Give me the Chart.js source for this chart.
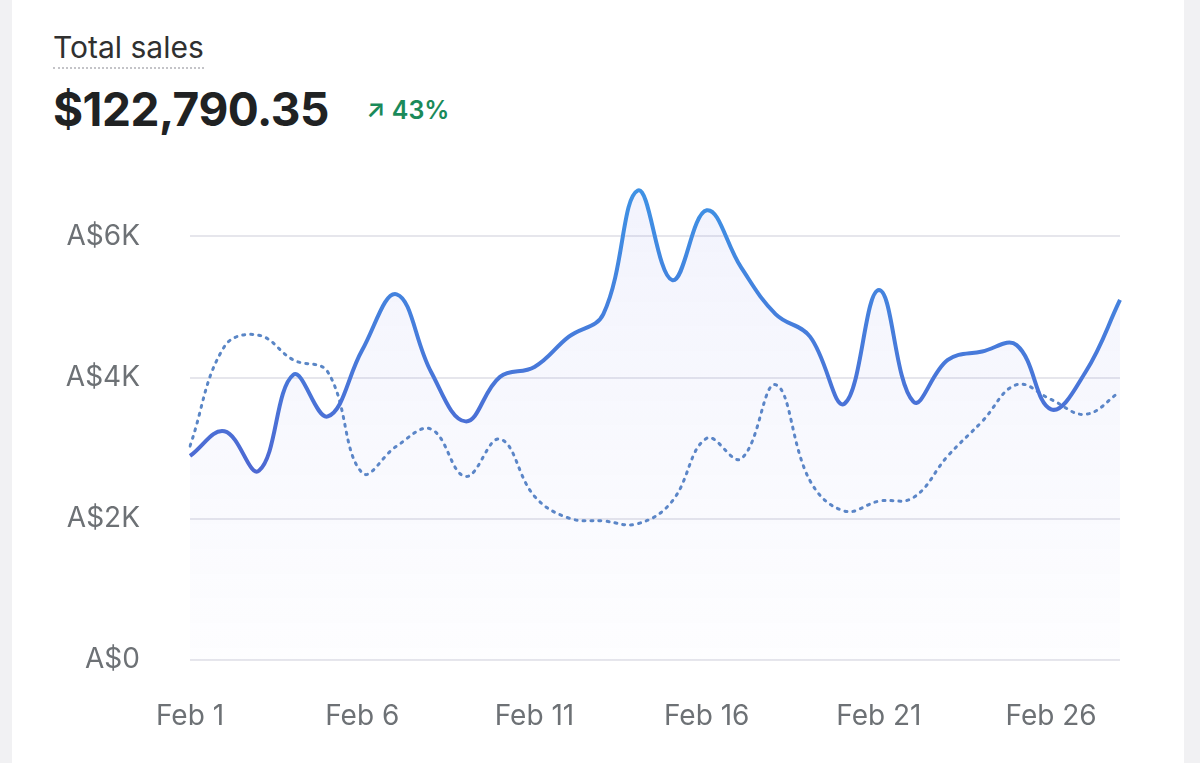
<!DOCTYPE html>
<html>
<head>
<meta charset="utf-8">
<script src="https://cdn.jsdelivr.net/npm/chart.js@4"></script>
<style>
  body { margin: 0; background: #f1f1f3; font-family: Inter, "Noto Sans", sans-serif; }
  .card { position: absolute; left: 12px; top: -10px; width: 1172px; height: 790px; background: #fff; }
  .title { position: absolute; left: 53px; top: 29px; font-size: 30px; color: #303030; border-bottom: 2px dotted #c4c4c8; padding-bottom: 2px; }
  .total { position: absolute; left: 53px; top: 81px; font-size: 46px; font-weight: 700; color: #202223; letter-spacing: -0.5px; }
  .delta { position: absolute; left: 366px; top: 95px; font-size: 25px; font-weight: 600; color: #1a8a5a; }
  #wrap { position: absolute; left: 40px; top: 99px; width: 1120px; height: 651px; }
</style>
</head>
<body>
<div class="card"></div>
<div class="title">Total sales</div>
<div class="total">$122,790.35</div>
<div class="delta">↗ 43%</div>
<div id="wrap"><canvas id="salesChartId"></canvas></div>
<script>
const days = [1,2,3,4,5,6,7,8,9,10,11,12,13,14,15,16,17,18,19,20,21,22,23,24,25,26,27,28];
const labels = days.map(d => `Feb ${d}`);
const currentSales = [2890,3240,2680,4040,3450,4390,5180,4080,3380,4010,4150,4580,4900,6650,5380,6370,5560,4900,4580,3630,5240,3660,4250,4370,4460,3550,4080,5100];
const previousSales = [3030,4440,4600,4250,4080,2650,3030,3270,2600,3130,2320,2010,1970,1930,2250,3140,2850,3900,2540,2110,2250,2300,2890,3380,3900,3690,3480,3800];
const yTicks = [0, 2000, 4000, 6000];

const ctx = document.getElementById('salesChartId');

function lineGradient(context) {
    const area = context.chart.chartArea;
    if (!area) return '#4f6fd4';
    const g = context.chart.ctx.createLinearGradient(0, area.top, 0, area.bottom);
    g.addColorStop(0, '#3d95e6');
    g.addColorStop(0.6, '#4d6ad3');
    g.addColorStop(1, '#5a4fc8');
    return g;
}

function fillGradient(context) {
    const area = context.chart.chartArea;
    if (!area) return 'rgba(120,120,220,0.06)';
    const g = context.chart.ctx.createLinearGradient(0, area.top, 0, area.bottom);
    g.addColorStop(0, 'rgba(110,120,230,0.09)');
    g.addColorStop(1, 'rgba(110,120,230,0.01)');
    return g;
}

new Chart(ctx, {
    type: 'line',
    data: {
        labels,
        datasets: [
            {
                label: 'Current',
                data: currentSales,
                borderColor: lineGradient,
                backgroundColor: fillGradient,
                fill: 'origin',
                borderWidth: 4,
                tension: 0.4,
                pointRadius: 0,
            },
            {
                label: 'Previous',
                data: previousSales,
                borderColor: '#5a86c6',
                borderDash: [2, 6],
                borderCapStyle: 'round',
                borderWidth: 3,
                tension: 0.4,
                pointRadius: 0,
                fill: false,
            }
        ]
    },
    options: {
        responsive: true,
        maintainAspectRatio: false,
        animation: false,
        layout: { padding: { top: 13, right: 10 } },
        plugins: { legend: { display: false }, tooltip: { enabled: false } },
        scales: {
            x: {
                grid: { display: false, drawTicks: false },
                border: { display: false },
                afterFit: s => { s.height = 90; },
                ticks: {
                    autoSkip: false,
                    maxRotation: 0,
                    padding: 40,
                    color: '#6d7175',
                    font: { size: 28, family: 'Inter' },
                    callback: (v, i) => (i % 5 === 0 ? labels[i] : '')
                }
            },
            y: {
                min: 0,
                max: 7000,
                grid: { color: '#e6e6ec', lineWidth: 2, drawTicks: false },
                border: { display: false },
                afterFit: s => { s.width = 150; },
                afterBuildTicks: s => { s.ticks = yTicks.map(v => ({ value: v })); },
                ticks: {
                    padding: 50,
                    color: '#6d7175',
                    font: { size: 28, family: 'Inter' },
                    callback: v => 'A$' + (v === 0 ? '0' : v / 1000 + 'K')
                }
            }
        }
    }
});
</script>
</body>
</html>
